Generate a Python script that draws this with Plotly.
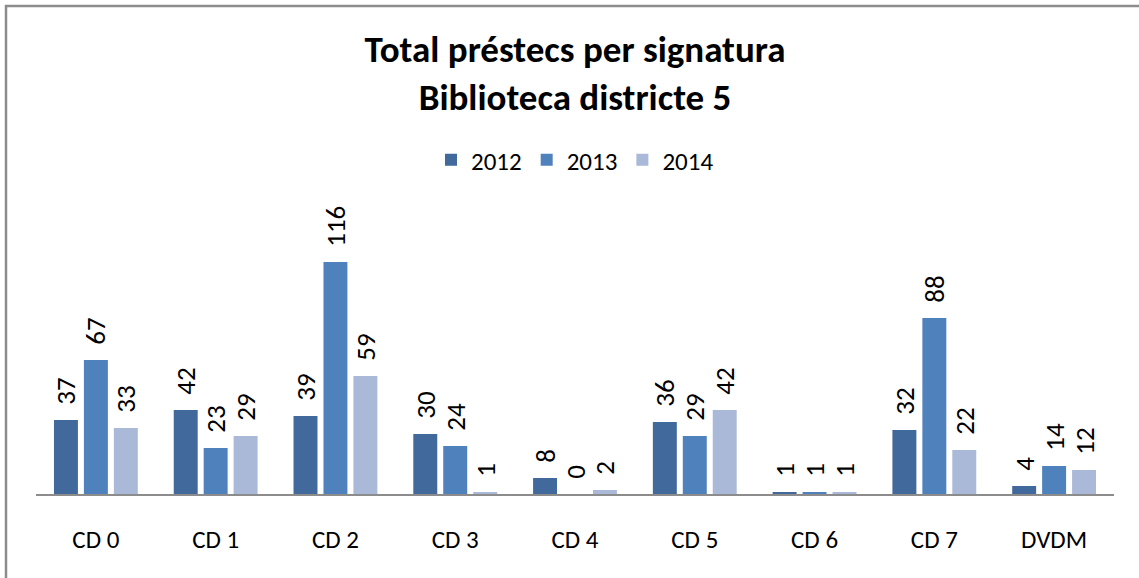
import plotly.graph_objects as go

categories = ["CD 0", "CD 1", "CD 2", "CD 3", "CD 4", "CD 5", "CD 6", "CD 7", "DVDM"]
years = ["2012", "2013", "2014"]
v2012 = [37, 42, 39, 30, 8, 36, 1, 32, 4]
v2013 = [67, 23, 116, 24, 0, 29, 1, 88, 14]
v2014 = [33, 29, 59, 1, 2, 42, 1, 22, 12]
colors = ["#41699C", "#4F81BD", "#AAB9D7"]

FONT = "Carlito, Lato, sans-serif"
PAD = "\u00a0\u00a0"

fig = go.Figure()
for name, vals, col in zip(years, [v2012, v2013, v2014], colors):
    fig.add_trace(go.Bar(
        x=categories, y=vals, name=name,
        marker=dict(color=col, line=dict(width=0)),
        text=[PAD + str(v) for v in vals], textposition="outside",
        textangle=-90, constraintext="none", cliponaxis=False,
        textfont=dict(size=27, color="black", family=FONT),
    ))

W, H = 1139, 578
ml, mr, mt, mb = 36, 25, 200, 84

fig.update_layout(
    width=W, height=H,
    margin=dict(l=ml, r=mr, t=mt, b=mb),
    paper_bgcolor="white", plot_bgcolor="white",
    barmode="group", bargap=0.25, bargroupgap=0.2,
    font=dict(family=FONT, color="black"),
    title=dict(text="<b>Total préstecs per signatura<br>Biblioteca districte 5</b>",
               x=0.5, xanchor="center", xref="paper", yref="container",
               y=1 - 62 / H, yanchor="top",
               font=dict(size=37, family=FONT, color="black")),
    legend=dict(orientation="h", x=0.5, xanchor="center", y=1 + 40 / (H - mt - mb),
                yanchor="middle",
                font=dict(size=25, family=FONT), traceorder="normal",
                itemwidth=30, bgcolor="rgba(0,0,0,0)"),
    xaxis=dict(showline=True, linecolor="#8C8C8C", linewidth=2, ticks="",
               tickfont=dict(size=25, family=FONT), showgrid=False, ticklabelstandoff=22),
    yaxis=dict(range=[0, 147], visible=False, showgrid=False, zeroline=False),
    showlegend=True,
)

pw = W - ml - mr
ph = H - mt - mb
fig.add_shape(type="rect", xref="paper", yref="paper",
              x0=(6 - ml) / pw, x1=(W + 10 - ml) / pw,
              y0=-(H + 10 - mt - ph) / ph, y1=(mt + ph - 6) / ph,
              line=dict(color="#8C8C8C", width=2.5), fillcolor="rgba(0,0,0,0)", layer="below")

fig.write_html("out.html", config={"displayModeBar": False},
               post_script="document.body.style.margin='0';document.body.style.overflow='hidden';")
